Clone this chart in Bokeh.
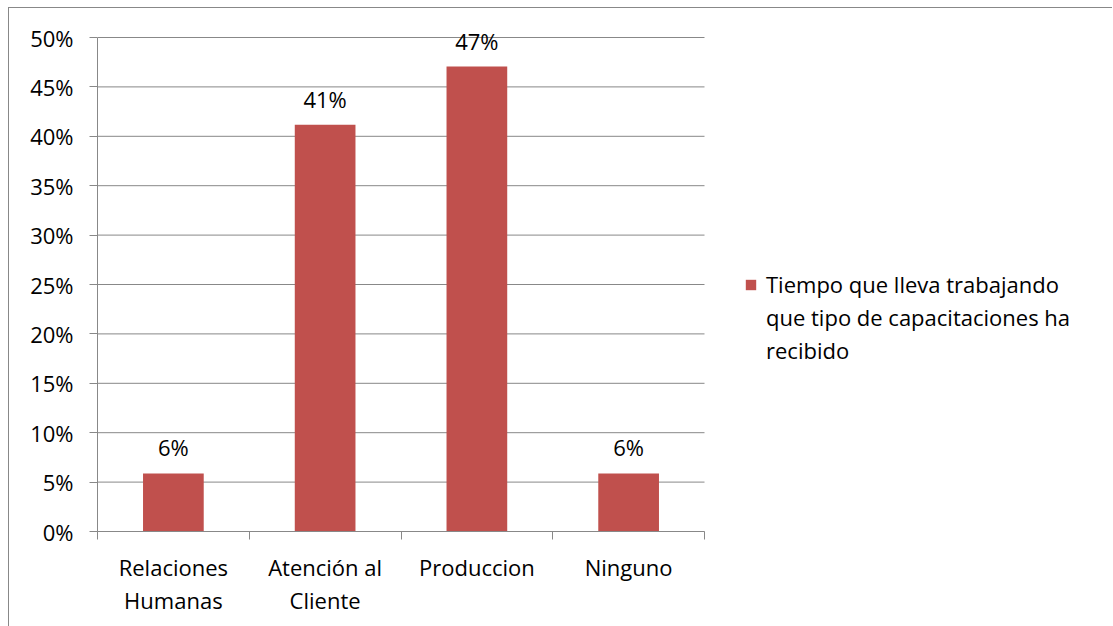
from bokeh.plotting import figure
from bokeh.models import (Range1d, FixedTicker, NumeralTickFormatter, Legend, LegendItem,
                          ColumnDataSource)
from bokeh.embed import file_html
from bokeh.resources import INLINE
from bokeh.core.properties import value

categories = ["Relaciones\nHumanas", "Atención al\nCliente", "Produccion", "Ninguno"]
values = [0.0588, 0.4118, 0.4706, 0.0588]
value_labels = ["6%", "41%", "47%", "6%"]
y_ticks = [0, 0.05, 0.10, 0.15, 0.20, 0.25, 0.30, 0.35, 0.40, 0.45, 0.50]
series_lines = ["Tiempo que lleva trabajando", "que tipo de capacitaciones ha", "recibido"]

FONT = "Open Sans"
FS = "22px"
BAR = "#C0504D"
GRID = "#888888"

n = len(categories)
y_max = y_ticks[-1]
xs = [i + 0.5 for i in range(n)]
src = ColumnDataSource(dict(x=xs, top=values, lab=value_labels))
grid_src = ColumnDataSource(dict(x0=[0] * len(y_ticks), x1=[n] * len(y_ticks), y=y_ticks))

# plot area: categories span 97..704 px, the rest of the frame (to 1113 px) hosts the legend
cat_px = (704 - 97) / n
x_end = n + (1113 - 704) / cat_px
# value axis: 0..50% spans 531..37 px; the frame reaches up to 10 px to leave room for labels
y_px = (531 - 37) / y_max
y_end = y_max + (37 - 10) / y_px

W, H = 1104, 619
p = figure(width=W, height=H, output_backend="svg", toolbar_location=None,
           x_range=Range1d(0, x_end), y_range=Range1d(0, y_end),
           min_border_left=88, min_border_top=2, min_border_bottom=96, min_border_right=0)
p.styles = {"border-left": f"1px solid {GRID}", "border-top": f"1px solid {GRID}",
            "margin-left": "8px", "margin-top": "7px"}
p.outline_line_color = None
p.background_fill_color = "white"
p.border_fill_color = "white"

# horizontal gridlines limited to the category area
p.segment(x0="x0", x1="x1", y0="y", y1="y", source=grid_src, line_color=GRID, line_width=1)

r = p.vbar(x="x", top="top", width=0.4, source=src, fill_color=BAR, line_color=None)
# invisible twin used only for the continuation lines of the legend label
r_blank = p.vbar(x="x", top="top", width=0.4, source=src, fill_alpha=0, line_alpha=0)
p.text(x="x", y="top", text="lab", source=src, text_align="center", text_baseline="bottom",
       y_offset=-11, text_font=value(FONT), text_font_size=FS, text_color="black")

# y axis
p.yaxis.bounds = (0, y_max)
p.yaxis.ticker = FixedTicker(ticks=y_ticks, minor_ticks=[])
p.yaxis.formatter = NumeralTickFormatter(format="0%")
p.yaxis.axis_line_color = GRID
p.yaxis.major_tick_line_color = GRID
p.yaxis.major_tick_out = 8
p.yaxis.major_tick_in = 0
p.yaxis.major_label_standoff = 16
p.yaxis.major_label_text_font = FONT
p.yaxis.major_label_text_font_size = FS
p.yaxis.major_label_text_color = "black"

# x axis
p.xaxis.bounds = (0, n)
p.xaxis.ticker = FixedTicker(ticks=xs, minor_ticks=list(range(n + 1)))
p.xaxis.major_label_overrides = {x: c for x, c in zip(xs, categories)}
p.xaxis.axis_line_color = GRID
p.xaxis.major_tick_line_color = None
p.xaxis.major_tick_out = 0
p.xaxis.major_tick_in = 0
p.xaxis.minor_tick_line_color = GRID
p.xaxis.minor_tick_out = 8
p.xaxis.minor_tick_in = 0
p.xaxis.major_label_standoff = 12
p.xaxis.major_label_text_font = FONT
p.xaxis.major_label_text_font_size = FS
p.xaxis.major_label_text_color = "black"
p.xaxis.major_label_text_line_height = 1.1

p.xgrid.grid_line_color = None
p.ygrid.grid_line_color = None

items = [LegendItem(label=series_lines[0], renderers=[r])] + \
        [LegendItem(label=t, renderers=[r_blank]) for t in series_lines[1:]]
legend = Legend(items=items, location=(647, 166), glyph_width=13, glyph_height=13,
                label_text_font=FONT, label_text_font_size=FS, label_text_color="black",
                border_line_color=None, background_fill_alpha=0, padding=0, margin=0,
                spacing=3, label_standoff=9)
p.add_layout(legend, "center")

open("out.html", "w").write(file_html(p, INLINE))
